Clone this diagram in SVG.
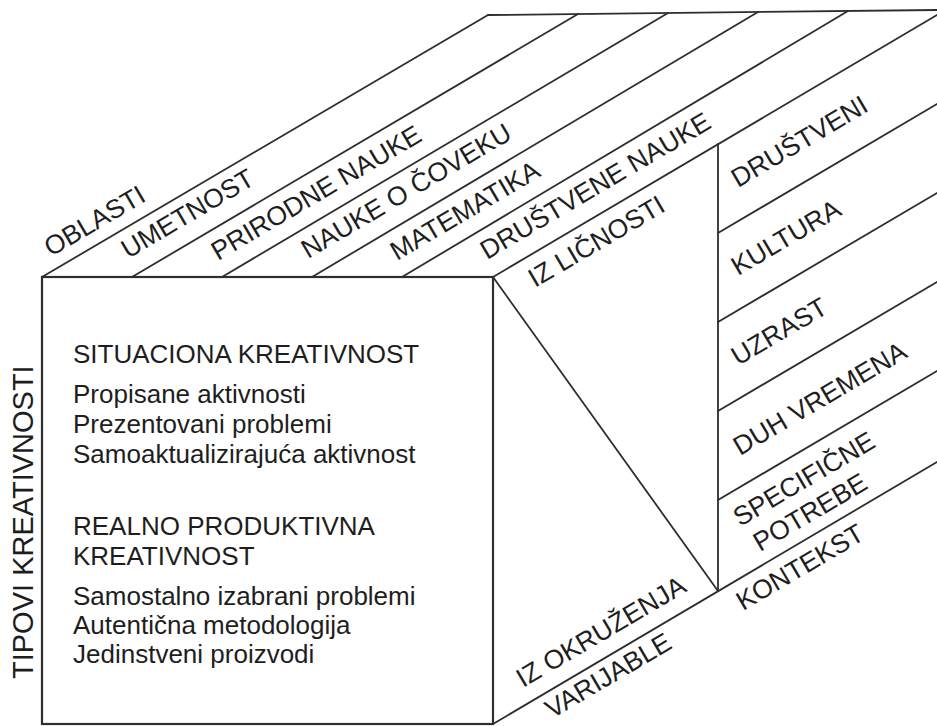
<svg xmlns="http://www.w3.org/2000/svg" width="937" height="726" viewBox="0 0 937 726">
  <style>
    .ln { stroke: #2e2e2e; stroke-width: 1.8; fill: none; stroke-linecap: round; }
    .box { stroke: #2e2e2e; stroke-width: 2.2; fill: #ffffff; }
    text { font-family: "Liberation Sans", Arial, Helvetica, sans-serif; fill: #1e1e1e; font-size: 26px; }
    .axis { font-size: 29px; }
    .slant { font-size: 26.5px; }
  </style>
  <rect width="937" height="726" fill="#ffffff"/>

  <!-- front face: types of creativity -->
  <g id="front-face">
    <rect class="box" x="42" y="277" width="451" height="447"/>
    <text x="73" y="363">SITUACIONA KREATIVNOST</text>
    <text x="73" y="403">Propisane aktivnosti</text>
    <text x="73" y="433">Prezentovani problemi</text>
    <text x="73" y="463">Samoaktualizirajuća aktivnost</text>
    <text x="73" y="535">REALNO PRODUKTIVNA</text>
    <text x="73" y="565">KREATIVNOST</text>
    <text x="73" y="605">Samostalno izabrani problemi</text>
    <text x="73" y="634">Autentična metodologija</text>
    <text x="73" y="663">Jedinstveni proizvodi</text>
  </g>

  <g id="axis-tipovi">
    <text class="axis" transform="translate(33,679) rotate(-90)">TIPOVI KREATIVNOSTI</text>
  </g>

  <!-- edges of the block -->
  <g id="connectors">
    <line class="ln" x1="488" y1="15" x2="937" y2="10"/>
    <line class="ln" x1="42" y1="277" x2="488" y2="15"/>
    <line class="ln" x1="132" y1="277" x2="578" y2="14"/>
    <line class="ln" x1="222" y1="277" x2="668" y2="13"/>
    <line class="ln" x1="312" y1="277" x2="758" y2="12"/>
    <line class="ln" x1="402" y1="277" x2="848" y2="11"/>
    <line class="ln" x1="493" y1="277" x2="937" y2="15"/>
    <line class="ln" x1="493" y1="277" x2="718" y2="591"/>
    <line class="ln" x1="718" y1="144" x2="718" y2="591"/>
    <line class="ln" x1="493" y1="724" x2="937" y2="462"/>
    <line class="ln" x1="718" y1="233" x2="937" y2="104"/>
    <line class="ln" x1="718" y1="322" x2="937" y2="193"/>
    <line class="ln" x1="718" y1="411" x2="937" y2="282"/>
    <line class="ln" x1="718" y1="500" x2="937" y2="371"/>
  </g>

  <!-- top face: domains -->
  <g id="oblasti">
    <text class="slant" transform="translate(51,257) rotate(-30.5)">OBLASTI</text>
    <text class="slant" transform="translate(128,259) rotate(-30.5)">UMETNOST</text>
    <text class="slant" transform="translate(218,261) rotate(-30.5)">PRIRODNE NAUKE</text>
    <text class="slant" transform="translate(308,259) rotate(-30.5)">NAUKE O ČOVEKU</text>
    <text class="slant" transform="translate(397,261) rotate(-30.5)">MATEMATIKA</text>
    <text class="slant" transform="translate(487,260) rotate(-30.5)">DRUŠTVENE NAUKE</text>
  </g>

  <!-- side face: variables -->
  <g id="varijable">
    <text class="slant" transform="translate(535,288) rotate(-30.5)">IZ LIČNOSTI</text>
    <text class="slant" transform="translate(523,688) rotate(-30.5)">IZ OKRUŽENJA</text>
    <text class="slant" transform="translate(552,719) rotate(-30.5)">VARIJABLE</text>
  </g>

  <!-- right column: context -->
  <g id="kontekst">
    <text class="slant" transform="translate(738,188) rotate(-30.5)">DRUŠTVENI</text>
    <text class="slant" transform="translate(738,276) rotate(-30.5)">KULTURA</text>
    <text class="slant" transform="translate(738,366) rotate(-30.5)">UZRAST</text>
    <text class="slant" transform="translate(740,456) rotate(-30.5)">DUH VREMENA</text>
    <text class="slant" transform="translate(740,527) rotate(-30.5)">SPECIFIČNE</text>
    <text class="slant" transform="translate(760,552) rotate(-30.5)">POTREBE</text>
    <text class="slant" transform="translate(743,611) rotate(-30.5)">KONTEKST</text>
  </g>
</svg>
